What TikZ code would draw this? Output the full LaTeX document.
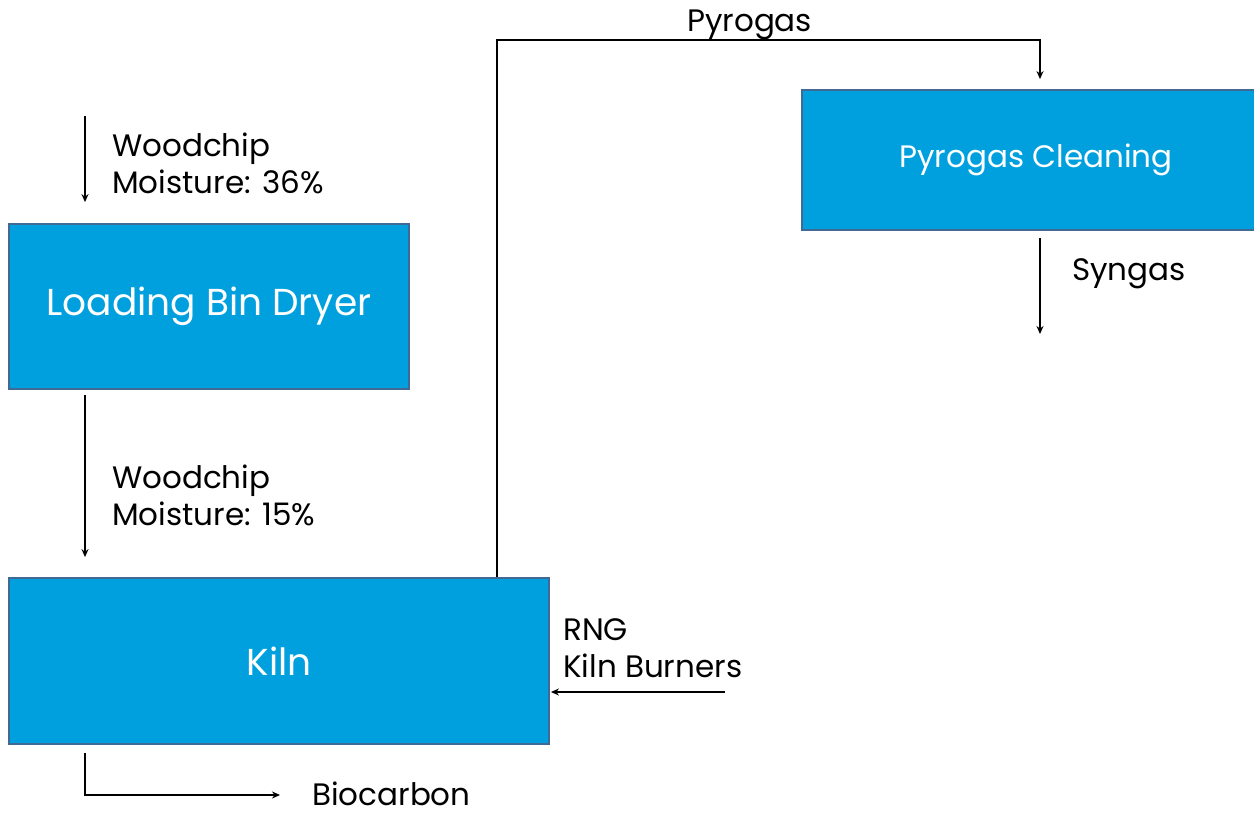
\documentclass[tikz,border=0pt]{standalone}
\usepackage{fontspec}
\setmainfont{Poppins}
\usetikzlibrary{arrows.meta}
\definecolor{boxfill}{RGB}{0,160,223}
\definecolor{boxline}{RGB}{65,105,150}
\begin{document}
\begin{tikzpicture}[x=1pt,y=-1pt,
  proc/.style={draw=boxline,line width=1.8pt,fill=boxfill,text=white,font=\fontsize{37.5}{44}\selectfont,inner sep=0pt},
  flow/.style={line width=1.8pt,-{Stealth[length=8pt,width=7pt]}},
  lbl/.style={font=\fontsize{31}{37}\selectfont,anchor=base west,inner sep=0pt}]
\useasboundingbox (0,0) rectangle (1254,812);
\begin{scope}
\clip (0,0) rectangle (1254,812);
\node[proc, minimum width=400pt, minimum height=165pt] (dryer) at (209,306.5) {Loading Bin Dryer};
\node[proc, minimum width=540pt, minimum height=166pt] (kiln) at (279,661) {Kiln};
\node[proc, minimum width=468pt, minimum height=140pt, font=\fontsize{31}{37}\selectfont] (clean) at (1036,160) {Pyrogas Cleaning};

\coordinate (win) at (85,116);
\coordinate (pg) at (497,40);
\coordinate (pgx) at (1040,40);
\coordinate (synend) at (1040,334);
\coordinate (rng) at (725,692);
\coordinate (bioend) at (280,795);

\draw[flow] (win) -- ([yshift=21pt]dryer.north -| win);
\draw[flow] ([yshift=-5pt]dryer.south -| win) -- ([yshift=20pt]kiln.north -| win);
\draw[flow] (kiln.north -| pg) -- (pg) -- (pgx) -- ([yshift=10pt]clean.north -| pgx);
\draw[flow] ([yshift=-7pt]clean.south -| pgx) -- (synend);
\draw[flow] (rng) -- ([xshift=1pt]kiln.east |- rng);
\draw[flow] ([yshift=-8pt]kiln.south -| win) |- (bioend);

\node[lbl] (l1a) at (112,156) {Woodchip};
\node[lbl] (l1b) at (112,193) {Moisture: 36\%};
\node[lbl] (l2a) at (112,488) {Woodchip};
\node[lbl] (l2b) at (112,525) {Moisture: 15\%};
\node[lbl] (l3) at (687,31) {Pyrogas};
\node[lbl] (l4) at (1072,280) {Syngas};
\node[lbl] (l5a) at (563,640) {RNG};
\node[lbl] (l5b) at (563,677) {Kiln Burners};
\node[lbl] (l6) at (312,805) {Biocarbon};
\end{scope}
\end{tikzpicture}
\end{document}
